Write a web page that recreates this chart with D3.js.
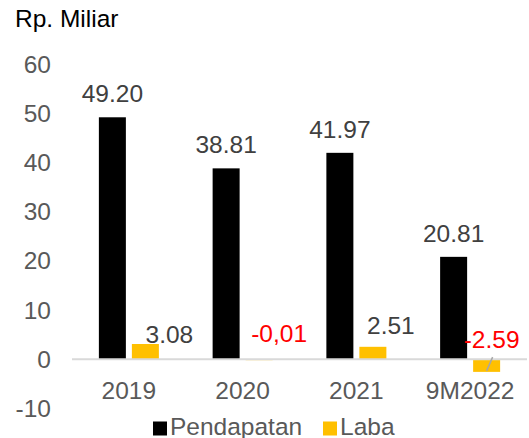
<!DOCTYPE html>
<html>
<head>
<meta charset="utf-8">
<script src="https://cdn.jsdelivr.net/npm/d3@7/dist/d3.min.js"></script>
<style>
  body { margin: 0; background: #fff; }
  svg { display: block; font-family: "Liberation Sans", Arial, sans-serif; }
</style>
</head>
<body>
<div id="chart"></div>
<script>
// data
const categories = ["2019", "2020", "2021", "9M2022"];
const pendapatan = [49.20, 38.81, 41.97, 20.81];
const laba = [3.08, -0.01, 2.51, -2.59];
const labaLabels = ["3.08", "-0,01", "2.51", "-2.59"];
const yTicks = [-10, 0, 10, 20, 30, 40, 50, 60];

const width = 529, height = 438;
const fontSize = 24.5;

const svg = d3.select("#chart").append("svg")
    .attr("width", width)
    .attr("height", height);

const x = d3.scaleBand().domain(categories).range([72, 527]);
const y = d3.scaleLinear().domain([-10, 60]).range([408.3, 64.2]);

const barW = 27, gap = 6;
const blackX = c => x(c) + x.bandwidth() / 2 - barW - gap / 2;
const yellowX = c => x(c) + x.bandwidth() / 2 + gap / 2;

// title
svg.append("text")
    .attr("x", 15).attr("y", 27)
    .attr("font-size", fontSize)
    .attr("fill", "#000")
    .text("Rp. Miliar");

// y tick labels
svg.selectAll("text.ytick")
    .data(yTicks)
    .join("text")
    .attr("class", "ytick")
    .attr("x", 51)
    .attr("y", d => y(d))
    .attr("dy", "0.35em")
    .attr("text-anchor", "end")
    .attr("font-size", fontSize)
    .attr("fill", "#595959")
    .text(d => d);

// bars
svg.selectAll("rect.pend")
    .data(categories)
    .join("rect")
    .attr("class", "pend")
    .attr("x", c => blackX(c))
    .attr("y", (c, i) => y(pendapatan[i]))
    .attr("width", barW)
    .attr("height", (c, i) => y(0) - y(pendapatan[i]))
    .attr("fill", "#000");

svg.selectAll("rect.laba")
    .data(categories)
    .join("rect")
    .attr("class", "laba")
    .attr("x", c => yellowX(c))
    .attr("y", (c, i) => y(Math.max(0, laba[i])))
    .attr("width", barW)
    .attr("height", (c, i) => Math.max(1, Math.abs(y(laba[i]) - y(0))))
    .attr("fill", "#FFC000");

// zero line
svg.append("line")
    .attr("x1", x.range()[0]).attr("x2", x.range()[1])
    .attr("y1", y(0)).attr("y2", y(0))
    .attr("stroke", "#D9D9D9")
    .attr("stroke-width", 2);

// x labels
svg.selectAll("text.xlab")
    .data(categories)
    .join("text")
    .attr("class", "xlab")
    .attr("x", c => x(c) + x.bandwidth() / 2)
    .attr("y", 398.5)
    .attr("text-anchor", "middle")
    .attr("font-size", fontSize)
    .attr("fill", "#595959")
    .text(c => c);

// value labels on black bars
svg.selectAll("text.pendlab")
    .data(categories)
    .join("text")
    .attr("class", "pendlab")
    .attr("x", c => blackX(c) + barW / 2)
    .attr("y", (c, i) => y(pendapatan[i]) - 15)
    .attr("text-anchor", "middle")
    .attr("font-size", fontSize)
    .attr("fill", "#404040")
    .text((c, i) => pendapatan[i].toFixed(2));

// laba labels were dragged around in the original, keep the nudges here
const labaNudge = [[24, 1], [20, 17], [18, 12.5], [5, 11]];
svg.selectAll("text.labalab")
    .data(categories)
    .join("text")
    .attr("class", "labalab")
    .attr("x", (c, i) => yellowX(c) + barW / 2 + labaNudge[i][0])
    .attr("y", (c, i) => y(Math.max(0, laba[i])) - labaNudge[i][1])
    .attr("text-anchor", "middle")
    .attr("font-size", fontSize)
    .attr("fill", (c, i) => laba[i] < 0 ? "#FF0000" : "#404040")
    .text((c, i) => labaLabels[i]);

// leader line for the last label
const lc = categories[3];
svg.append("line")
    .attr("x1", yellowX(lc) + barW / 2).attr("y1", y(laba[3]) - 1)
    .attr("x2", yellowX(lc) + barW / 2 + 6).attr("y2", y(0) - 2)
    .attr("stroke", "#A6A6A6")
    .attr("stroke-width", 1.5);

// legend
const legend = [["Pendapatan", "#000", 153], ["Laba", "#FFC000", 323]];
legend.forEach(([name, color, lx]) => {
    svg.append("rect")
        .attr("x", lx).attr("y", 421.5)
        .attr("width", 14).attr("height", 14)
        .attr("fill", color);
    svg.append("text")
        .attr("x", lx + 17).attr("y", 434.5)
        .attr("font-size", fontSize)
        .attr("fill", "#595959")
        .text(name);
});
</script>
</body>
</html>
